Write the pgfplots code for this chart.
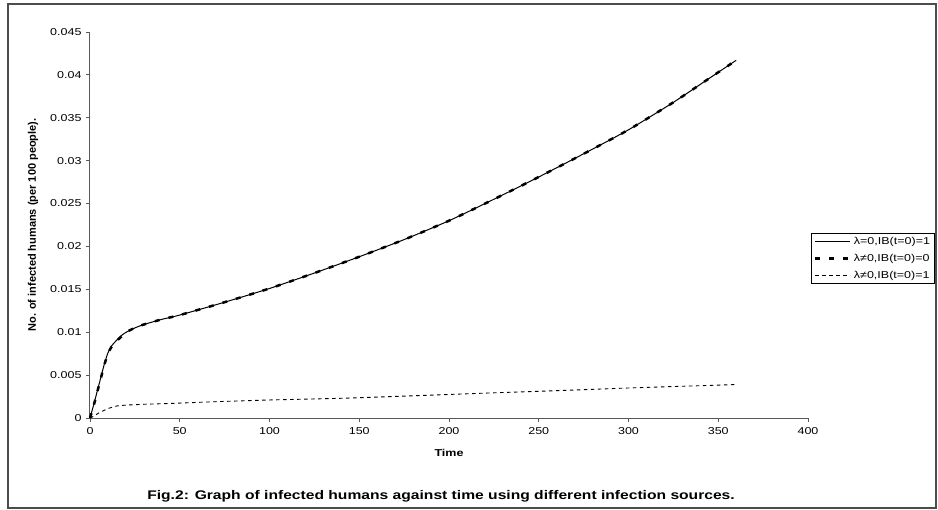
\documentclass[border=0pt]{standalone}
\usepackage{fontspec}
\setmainfont{Liberation Sans}[FakeStretch=1.25]
\newfontfamily\ylabfont{Liberation Sans}
\usepackage{pgfplots}
\pgfplotsset{compat=1.18}
\begin{document}
\begin{tikzpicture}
\path[use as bounding box] (-90bp,-92bp) rectangle (848bp,418bp);
\begin{axis}[
  at={(0,0)}, anchor=south west,
  width=718bp, height=386bp, scale only axis,
  xmin=0, xmax=400, ymin=0, ymax=0.045,
  axis lines=left,
  axis line style={-, draw=black!65, line width=1bp},
  xtick={0,50,100,150,200,250,300,350,400},
  ytick={0,0.005,0.01,0.015,0.02,0.025,0.03,0.035,0.04,0.045},
  tick align=outside,
  major tick length=4bp,
  tick style={draw=black!65, line width=0.8bp},
  scaled y ticks=false,
  /pgf/number format/assume math mode=true,
  yticklabel style={/pgf/number format/fixed, /pgf/number format/precision=3},
  tick label style={font=\fontsize{10bp}{12bp}\selectfont},
  xticklabel style={yshift=-2bp},
  yticklabel style={xshift=-1bp},
  every axis x label/.style={at={(axis description cs:0.5,-0.0907)}, anchor=center, font=\bfseries\fontsize{10bp}{12bp}\selectfont},
  every axis y label/.style={at={(axis description cs:-0.0794,0.5)}, rotate=90, anchor=center, font=\ylabfont\bfseries\fontsize{11bp}{13bp}\selectfont},
  xlabel={Time},
  ylabel={No. of infected humans (per 100 people).},
  clip=false,
  legend style={at={(1.0042,0.4793)}, anchor=north west, draw=black, line width=0.8bp,
    font=\fontsize{10bp}{12bp}\selectfont, inner xsep=2bp, inner ysep=2bp,
    row sep=4bp, cells={anchor=west}},
  legend image code/.code={\draw[#1, line width=\pgfkeysvalueof{/pgfplots/legimgwidth}] (0bp,0bp) -- (35bp,0bp);},
  legimgwidth/.initial=1bp,
]
\addplot[black, line width=1bp, solid, smooth, tension=0.4, legimgwidth=0.8bp] coordinates {
(0,0) (2,0.0015) (4,0.0031) (6,0.0047) (8,0.0063) (10,0.0076) (12,0.0084)
(15,0.0091) (18,0.0097) (21,0.0101) (25,0.0105) (30,0.0109) (40,0.0115)
(50,0.0120) (75,0.0135) (100,0.0151) (125,0.0169) (150,0.0188) (175,0.0208)
(200,0.0230) (225,0.0255) (250,0.0281) (275,0.0308) (300,0.0336)
(325,0.0368) (345,0.0396) (360,0.0417)
};
\addlegendentry{λ=0,IB(t=0)=1}
\addplot[black, line width=2.5bp, dash pattern=on 5bp off 9bp, smooth, tension=0.4, legimgwidth=3.5bp] coordinates {
(0,0) (2,0.0014) (4,0.0030) (6,0.0046) (8,0.0062) (10,0.0075) (12,0.0083)
(15,0.0090) (18,0.0096) (21,0.0101) (25,0.0105) (30,0.0109) (40,0.0115)
(50,0.0120) (75,0.0135) (100,0.0151) (125,0.0169) (150,0.0188) (175,0.0208)
(200,0.0230) (225,0.0255) (250,0.0281) (275,0.0308) (300,0.0336)
(325,0.0368) (345,0.0396) (360,0.0417)
};
\addlegendentry{λ≠0,IB(t=0)=0}
\addplot[black, line width=0.9bp, dash pattern=on 3.5bp off 3.5bp, smooth, tension=0.4, legimgwidth=0.8bp] coordinates {
(0,0) (2,0.0002) (5,0.0006) (8,0.0009) (10,0.0011) (15,0.0014) (20,0.0015)
(30,0.0016) (45,0.0017) (70,0.0019) (100,0.0021) (140,0.0023) (175,0.00255)
(220,0.0029) (262,0.0032) (300,0.0035) (330,0.0037) (360,0.0039)
};
\addlegendentry{λ≠0,IB(t=0)=1}
\node[font=\bfseries\fontsize{12.5bp}{14bp}\selectfont, anchor=center] at (axis description cs:0.4889,-0.2021)
  {Fig.2: Graph of infected humans against time using different infection sources.};
\end{axis}
\draw[draw=black!70, line width=1.5bp] (-82bp,-90bp) rectangle (846bp,414bp);
\end{tikzpicture}
\end{document}
